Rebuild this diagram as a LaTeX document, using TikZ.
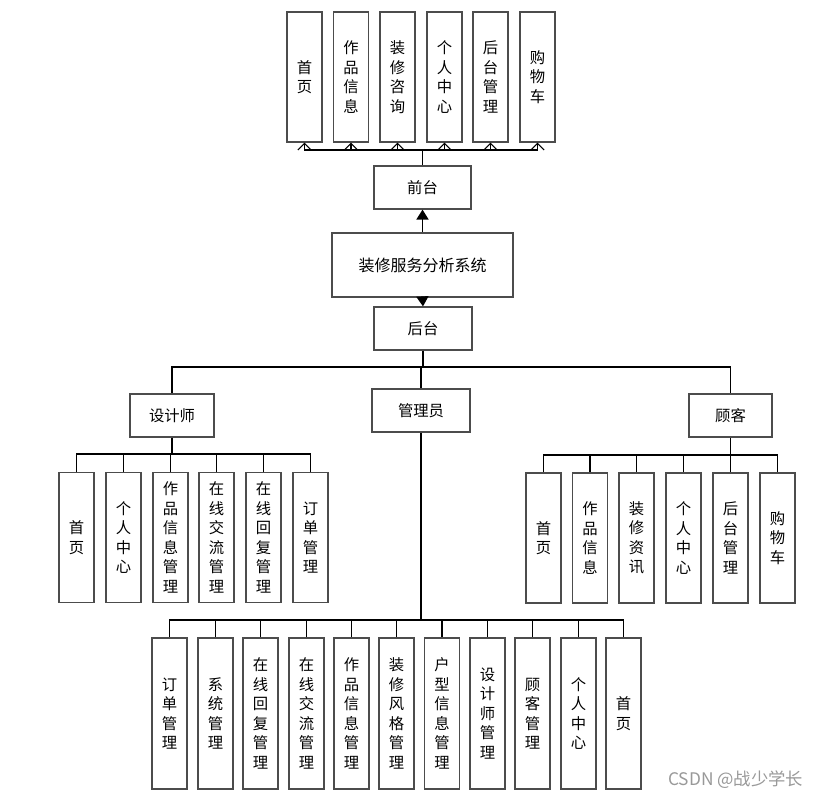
\documentclass[tikz,border=0pt]{standalone}
\usepackage{fontspec}
\newfontfamily\cjk{Noto Sans CJK SC}
\usetikzlibrary{arrows.meta}
\tikzset{
  box/.style={draw=black!70, line width=0.9pt, fill=white, inner sep=0pt, align=center,
    font=\cjk\fontsize{11.5}{14.6}\selectfont},
  hbox/.style={box, minimum width=#1},
  col/.style={box, minimum width=26.25pt, minimum height=97.5pt},
  colb/.style={box, minimum width=26.25pt, minimum height=113.25pt},
  conn/.style={draw=black, line width=0.9pt},
  stem/.style={draw=black, line width=1.3pt},
  openarr/.style={conn, -{Straight Barb[length=5pt,width=10pt,line width=0.75pt]}},
  fillarr/.style={stem, -{Triangle[length=7.5pt,width=9pt]}}
}
\begin{document}
\begin{tikzpicture}[x=0.75pt,y=-0.75pt]
\fill[white] (0,0) rectangle (819,797);
\useasboundingbox (0,0) rectangle (819,797);

% main & first level
\node[hbox=135.75pt, minimum height=48pt, font=\cjk\fontsize{12}{14}\selectfont] (main) at (422.5,265) {装修服务分析系统};
\node[hbox=72.75pt, minimum height=32.25pt] (qt) at (422.5,187.5) {前台};
\node[hbox=73.5pt, minimum height=32.25pt] (ht) at (423,328.5) {后台};

% front children
\node[col] (t1) at (304.5,77) {首\\页};
\node[col] (t2) at (351,77) {作\\品\\信\\息};
\node[col] (t3) at (397.5,77) {装\\修\\咨\\询};
\node[col] (t4) at (444.5,77) {个\\人\\中\\心};
\node[col] (t5) at (490.5,77) {后\\台\\管\\理};
\node[col] (t6) at (537.5,77) {购\\物\\车};

% second level
\node[hbox=63pt, minimum height=32.25pt] (sj) at (172,415.5) {设计师};
\node[hbox=73.5pt, minimum height=32.25pt] (gly) at (421,410.5) {管理员};
\node[hbox=62.25pt, minimum height=32.25pt] (gk) at (730.5,415.5) {顾客};

% designer children
\node[col] (d1) at (76.5,537.5) {首\\页};
\node[col] (d2) at (123.5,537.5) {个\\人\\中\\心};
\node[col] (d3) at (170.5,537.5) {作\\品\\信\\息\\管\\理};
\node[col] (d4) at (216.5,537.5) {在\\线\\交\\流\\管\\理};
\node[col] (d5) at (263.5,537.5) {在\\线\\回\\复\\管\\理};
\node[col] (d6) at (310.5,537.5) {订\\单\\管\\理};

% customer children
\node[col] (c1) at (543.5,538) {首\\页};
\node[col] (c2) at (590,538) {作\\品\\信\\息};
\node[col] (c3) at (636.5,538) {装\\修\\资\\讯};
\node[col] (c4) at (683.5,538) {个\\人\\中\\心};
\node[col] (c5) at (730.5,538) {后\\台\\管\\理};
\node[col] (c6) at (777.5,538) {购\\物\\车};

% admin children
\node[colb] (a1) at (169.5,713.5) {订\\单\\管\\理};
\node[colb] (a2) at (215.5,713.5) {系\\统\\管\\理};
\node[colb] (a3) at (260.5,713.5) {在\\线\\回\\复\\管\\理};
\node[colb] (a4) at (306.5,713.5) {在\\线\\交\\流\\管\\理};
\node[colb] (a5) at (351.5,713.5) {作\\品\\信\\息\\管\\理};
\node[colb] (a6) at (396.5,713.5) {装\\修\\风\\格\\管\\理};
\node[colb] (a7) at (442,713.5) {户\\型\\信\\息\\管\\理};
\node[colb] (a8) at (487.5,713.5) {设\\计\\师\\管\\理};
\node[colb] (a9) at (532.5,713.5) {顾\\客\\管\\理};
\node[colb] (a10) at (578.5,713.5) {个\\人\\中\\心};
\node[colb] (a11) at (623.5,713.5) {首\\页};

% bus levels
\coordinate (tb) at (0,150);
\coordinate (mb) at (0,367);
\coordinate (db) at (0,454);
\coordinate (cb) at (0,455);
\coordinate (ab) at (0,620);

% arrows main
\draw[fillarr] (main.north) -- (qt.south);
\draw[fillarr] (main.south) -- (ht.north);

% front tree
\draw[conn] (qt.north) -- (qt.north |- tb);
\foreach \n in {t1,t2,t3,t4,t5,t6}
  \draw[openarr] (qt.north |- tb) -| (\n.south);

% back tree
\draw[conn] (ht.south) -- (ht.south |- mb);
\foreach \n in {sj,gly,gk}
  \draw[conn] (ht.south |- mb) -| (\n.north);

% designer tree
\draw[stem] (sj.south) -- (sj.south |- db);
\foreach \n in {d1,d2,d3,d4,d5,d6}
  \draw[conn] (sj.south |- db) -| (\n.north);

% customer tree
\draw[stem] (gk.south) -- (gk.south |- cb);
\foreach \n in {c1,c2,c3,c4,c5,c6}
  \draw[conn] (gk.south |- cb) -| (\n.north);

% admin tree
\draw[draw=black, line width=1.7pt] (gly.south) -- (gly.south |- ab);
\foreach \n in {a1,a2,a3,a4,a5,a6,a7,a8,a9,a10,a11}
  \draw[conn] (gly.south |- ab) -| (\n.north);

% watermark
\node[anchor=west, inner sep=0pt, text=black!40, font=\cjk\fontsize{13}{15}\selectfont] (wm) at (668,780) {CSDN @战少学长};
\end{tikzpicture}
\end{document}
